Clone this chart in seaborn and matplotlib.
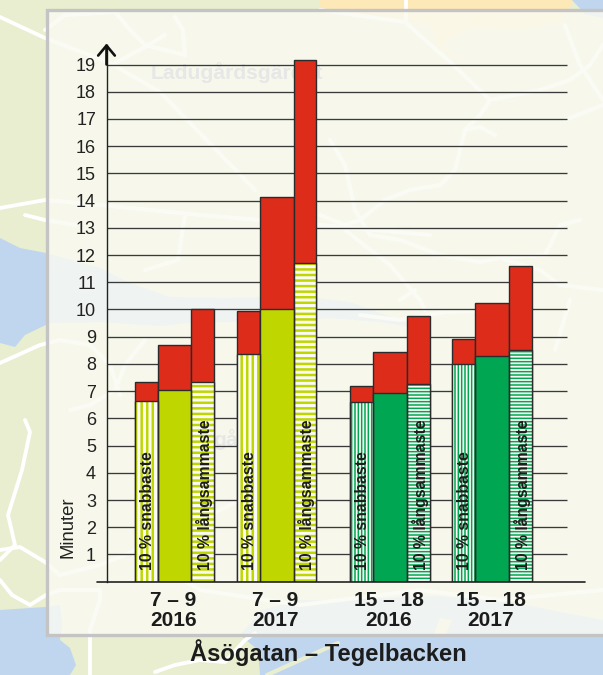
import matplotlib
matplotlib.use("Agg")
import matplotlib.pyplot as plt
from matplotlib.patches import Polygon, Rectangle
import pandas as pd
import seaborn as sns

# ---------- data ----------
groups = ["7 – 9\n2016", "7 – 9\n2017", "15 – 18\n2016", "15 – 18\n2017"]
kinds = ["snabbaste", "median", "långsammaste"]
lower_g1 = [6.65, 7.05, 7.35]
lower_g2 = [8.35, 10.0, 11.7]
lower_g3 = [6.6, 6.95, 7.25]
lower_g4 = [8.0, 8.3, 8.5]
upper_g1 = [7.35, 8.7, 10.0]
upper_g2 = [9.95, 14.15, 19.17]
upper_g3 = [7.2, 8.45, 9.75]
upper_g4 = [8.9, 10.25, 11.6]
y_ticks = list(range(1, 20))
label_fast = "10 % snabbaste"
label_slow = "10 % långsammaste"
title = "Åsögatan – Tegelbacken"
y_label = "Minuter"

# ---------- layout (pixels of the 603x675 picture) ----------
W, H = 603, 675
BASE_Y, TOP_Y = 581.7, 45.0
UNIT = (581.7 - 64.5) / 19
group_edges = [(134.5, 157.5, 191, 213.8), (237.2, 259.5, 293.5, 316),
               (349.5, 373, 407, 429.5), (452.2, 474.5, 509, 531.5)]
LIME, GREEN, RED, DARK = "#bfd600", "#00a651", "#de2c1b", "#2b2b2b"

sns.set_theme(style="white")
plt.rcParams["font.family"] = ["Liberation Sans", "DejaVu Sans"]

fig = plt.figure(figsize=(W / 100, H / 100), dpi=100)

# ---------- decorative map backdrop ----------
bg = fig.add_axes([0, 0, 1, 1], zorder=0)
bg.set_xlim(0, W); bg.set_ylim(H, 0); bg.axis("off")
bg.add_patch(Rectangle((0, 0), W, H, fc="#e8eecf", ec="none"))
yellow = [(320, 0), (575, 0), (560, 22), (520, 30), (470, 28), (440, 45), (465, 60), (440, 50), (430, 25), (320, 8)]
water = [
    [(0, 238), (20, 248), (46, 253), (100, 268), (130, 283), (170, 297), (230, 298), (300, 296), (350, 302), (400, 320), (430, 330),
     (380, 322), (330, 318), (280, 322), (200, 322), (160, 326), (100, 322), (50, 323), (25, 335), (15, 347), (0, 343)],
    [(0, 610), (45, 607), (60, 605), (62, 625), (60, 640), (70, 648), (76, 665), (70, 675), (0, 675)],
    [(260, 675), (258, 650), (240, 635), (262, 610), (300, 600), (340, 600), (430, 596), (500, 600), (560, 612), (603, 620), (603, 675)],
    [(572, 0), (603, 0), (603, 18), (585, 14)],
]
bg.add_patch(Polygon(yellow, fc="#fde8b8", ec="none"))
for w in water:
    bg.add_patch(Polygon(w, fc="#c0d6ee", ec="none"))
bg.add_patch(Polygon([(433, 636), (440, 618), (452, 620), (445, 636)], fc="#e8eecf", ec="none"))
bg.plot([338, 267], [643, 675], color="#e8eecf", lw=3)
roads = [
    [(0, 17), (45, 38), (110, 63), (160, 92), (255, 190)],
    [(45, 30), (65, 15), (115, 12), (130, 30), (145, 45), (165, 50), (185, 55), (183, 30), (175, 17)],
    [(115, 63), (145, 47), (165, 35)],
    [(0, 208), (45, 200), (100, 205), (200, 215), (320, 225), (430, 235)],
    [(25, 215), (45, 220), (75, 225)],
    [(185, 215), (178, 260), (145, 270)],
    [(0, 363), (40, 345), (60, 340), (90, 345), (110, 365), (120, 395)],
    [(145, 340), (125, 365), (115, 390), (90, 405), (70, 410)],
    [(25, 420), (30, 432), (22, 470), (8, 515), (15, 545), (0, 560)],
    [(0, 550), (20, 547), (45, 562), (60, 575), (100, 565), (125, 555), (200, 520), (240, 500)],
    [(0, 580), (12, 595), (30, 605), (46, 595), (60, 590), (100, 590), (100, 600), (90, 630), (90, 675)],
    [(320, 10), (405, 22), (450, 62), (490, 100), (480, 115), (465, 130), (455, 170), (440, 185), (410, 190), (385, 200), (360, 220), (345, 225), (320, 215)],
    [(490, 100), (540, 90), (570, 80), (590, 65), (603, 45)],
    [(565, 25), (580, 65), (603, 100)], [(565, 120), (603, 105)],
    [(465, 130), (480, 127), (495, 135)],
    [(330, 140), (345, 165), (355, 210), (370, 235), (400, 240), (440, 255), (480, 262), (500, 258), (545, 255), (560, 225), (580, 220)],
    [(345, 230), (390, 265), (420, 300), (425, 310)], [(400, 300), (415, 290)],
    [(500, 258), (540, 270), (560, 285), (603, 290)], [(570, 300), (555, 350)],
    [(360, 315), (400, 320), (445, 312), (500, 310)],
    [(406, 0), (406, 20)], [(155, 672), (175, 665), (200, 660), (225, 662), (245, 640), (255, 633)],
    [(150, 560), (200, 590), (300, 605), (420, 590), (500, 600), (603, 590)],
]
for r in roads:
    bg.plot(*zip(*r), color="white", lw=2.8, solid_capstyle="round", solid_joinstyle="round", zorder=2)
bg.add_patch(Rectangle((46.5, 9.5), W, 625, fc="#fbfbf3", ec="none", alpha=0.8, zorder=3))
bg.plot([W + 5, 46.5, 46.5, W + 5], [9.5, 9.5, 634.5, 634.5], color="#c4c4c4", lw=2.4,
        solid_joinstyle="miter", zorder=4)
bg.text(237, 73, "Ladugårdsgärdet", color="#e6e7e6", fontsize=15.2, fontweight="bold", ha="center", va="center", zorder=5)
bg.text(226, 440, "gå", color="#e6e7e6", fontsize=15.2, fontweight="bold", ha="center", va="center", zorder=5)
bg.set_xlim(0, W); bg.set_ylim(H, 0)

# ---------- chart ----------
ax = fig.add_axes([106.5 / W, 1 - BASE_Y / H, (585 - 106.5) / W, (BASE_Y - TOP_Y) / H], zorder=1)
ax.patch.set_alpha(0)

lowers = [lower_g1, lower_g2, lower_g3, lower_g4]
uppers = [upper_g1, upper_g2, upper_g3, upper_g4]
rows = []
for g, lo, up in zip(groups, lowers, uppers):
    for k, l, u in zip(kinds, lo, up):
        rows.append({"bar": f"{g}|{k}", "group": g, "kind": k, "lower": l, "upper": u})
df = pd.DataFrame(rows)

base_colors = [LIME if i < 2 else GREEN for i in range(len(groups)) for _ in kinds]

# horizontal gridlines
ax.hlines(y_ticks, 106.5, 566.7, color="#3a3a3a", lw=0.95, zorder=1)
ax.plot([97, 585], [0, 0], color="#222222", lw=1.2, clip_on=False, zorder=5)


def place(patches):
    i = 0
    for edges in group_edges:
        for j in range(3):
            patches[i].set_x(edges[j])
            patches[i].set_width(edges[j + 1] - edges[j])
            i += 1


# red totals
before = len(ax.patches)
sns.barplot(df, x="bar", y="upper", order=df["bar"], color=RED, saturation=1, width=0.8,
            edgecolor=DARK, linewidth=1.0, ax=ax, zorder=2)
red = list(ax.patches[before:])
place(red)

# lime / green lower part (hatched outer bars)
before = len(ax.patches)
sns.barplot(df, x="bar", y="lower", order=df["bar"], hue="bar", hue_order=df["bar"], palette=base_colors,
            saturation=1, width=0.8, legend=False, linewidth=0, ax=ax, zorder=3)
base = [p for p in ax.patches[before:] if p.get_height() > 0]
place(base)
for i, p in enumerate(base):
    kind = i % 3
    col = base_colors[i]
    is_lime = col == LIME
    if kind == 1:
        continue
    p.set_facecolor("#fbfbf5")
    p.set_edgecolor(col)
    p.set_linewidth(0)
    p.set_hatch(("|||" if kind == 0 else "---") if is_lime else ("|||||" if kind == 0 else "-----"))
    p.set_hatch_linewidth(1.8 if is_lime else 1.1)

# dark outlines of the lower part
before = len(ax.patches)
sns.barplot(df, x="bar", y="lower", order=df["bar"], color=DARK, fill=False, saturation=1, width=0.8,
            linewidth=1.0, ax=ax, zorder=4)
place(list(ax.patches[before:]))

# texts inside the outer bars
for edges in group_edges:
    ax.text((edges[0] + edges[1]) / 2 + 1.5, 0.43, label_fast, rotation=90, ha="center", va="bottom",
            fontsize=11.4, fontweight="bold", color="#1c1c1c", zorder=6)
    ax.text((edges[2] + edges[3]) / 2 + 2, 0.43, label_slow, rotation=90, ha="center", va="bottom",
            fontsize=11.4, fontweight="bold", color="#1c1c1c", zorder=6)

ax.set_xlim(106.5, 585)
ax.set_ylim(0, (BASE_Y - TOP_Y) / UNIT)
ax.set_yticks(y_ticks)
ax.set_yticklabels([str(v) for v in y_ticks], fontsize=13, color="#222222")
ax.set_xticks([(e[0] + e[3]) / 2 - 1 for e in group_edges])
ax.set_xticklabels(groups, fontsize=15, fontweight="bold", color="#1c1c1c", linespacing=1.08)
ax.tick_params(axis="both", length=0)
ax.tick_params(axis="y", pad=7.5)
ax.tick_params(axis="x", pad=6.5)
ax.set_xlabel("")
ax.set_ylabel("")
for s in ["top", "right", "bottom"]:
    ax.spines[s].set_visible(False)
ax.spines["left"].set_color("#222222")
ax.spines["left"].set_linewidth(1.0)
ax.annotate("", xy=(106.5, (BASE_Y - 43.5) / UNIT), xytext=(106.5, 19),
            arrowprops=dict(arrowstyle="->,head_length=0.6,head_width=0.5", color="#111111", lw=1.9,
                            shrinkA=0, shrinkB=0), annotation_clip=False)

fig.text(68.5 / W, 1 - 527.5 / H, y_label, rotation=90, ha="center", va="center", fontsize=13.3, color="#222222")
fig.text(328 / W, 1 - 652.5 / H, title, ha="center", va="center", fontsize=17.1, fontweight="bold", color="#1c1c1c")

fig.savefig("out.png", dpi=100)
